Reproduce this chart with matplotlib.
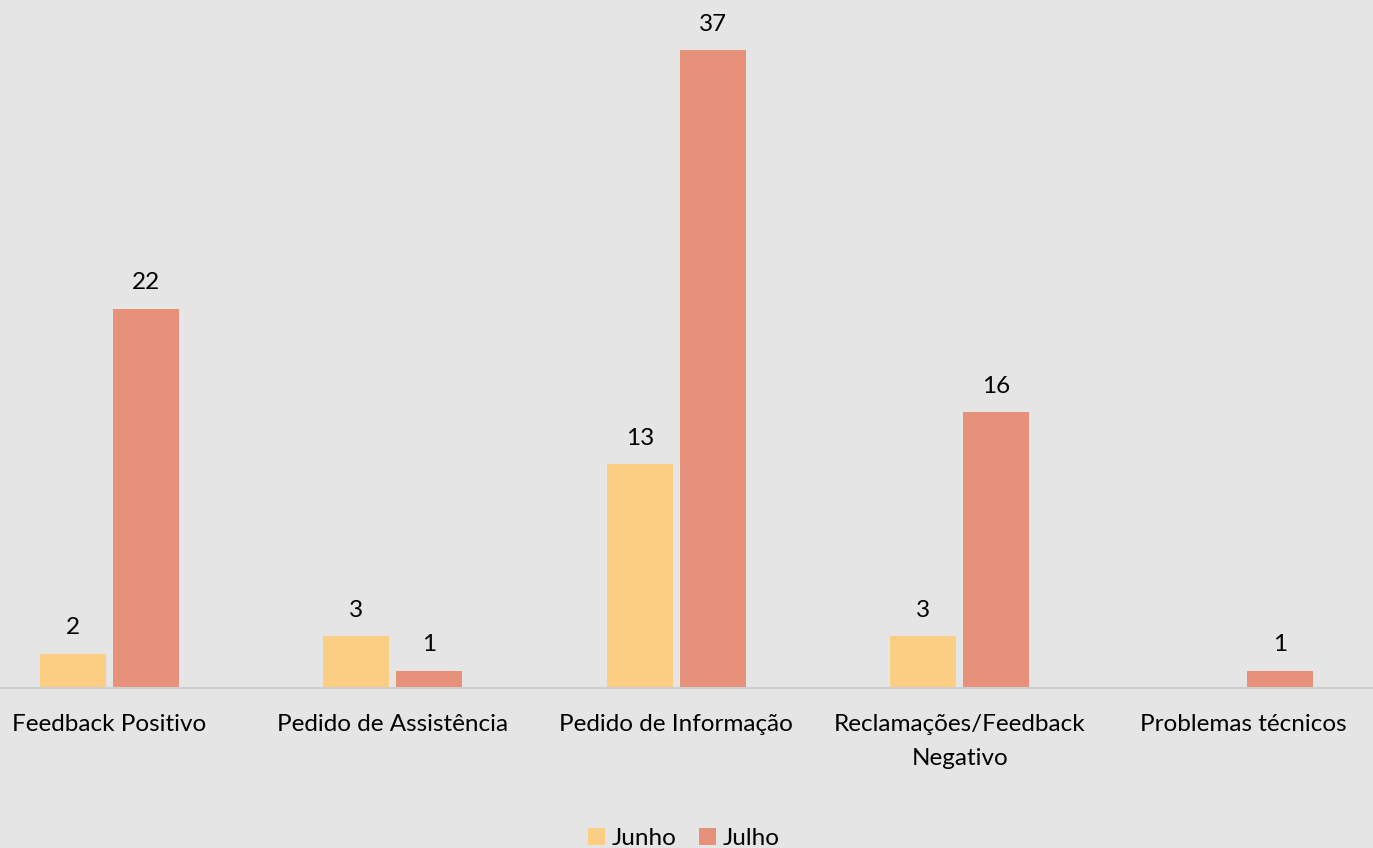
import matplotlib.pyplot as plt
import numpy as np

# Contagem de contactos por categoria
categorias = ['Feedback Positivo', 'Pedido de Assistência', 'Pedido de Informação',
              'Reclamações/Feedback\nNegativo', 'Problemas técnicos']
junho = [2, 3, 13, 3, 0]
julho = [22, 1, 37, 16, 1]

cor_fundo = '#E5E5E5'
cor_junho = '#FCCE83'
cor_julho = '#E8917A'

plt.rcParams['font.family'] = ['Lato', 'DejaVu Sans']

fig = plt.figure(figsize=(13.73, 8.48), dpi=100, facecolor=cor_fundo)
ax = fig.add_axes([0, 160 / 848, 1, 688 / 848])
ax.set_facecolor(cor_fundo)

x = np.arange(len(categorias))
larg = 66 / 283.55
sep = 7 / 283.55

b1 = ax.bar(x - (larg + sep) / 2, junho, larg, color=cor_junho, label='Junho')
b2 = ax.bar(x + (larg + sep) / 2, julho, larg, color=cor_julho, label='Julho')

# rotulos de valor (sem rotulo para barras vazias)
for barras, vals in ((b1, junho), (b2, julho)):
    for r, v in zip(barras, vals):
        if v == 0:
            continue
        ax.annotate(str(v), (r.get_x() + r.get_width() / 2, v), xytext=(0, 11),
                    textcoords='offset points', ha='center', va='bottom', fontsize=17.5)

ax.set_xlim(-109.3 / 283.55, (1373 - 109.3) / 283.55)
ax.set_ylim(0, 688 / 17.24)

for s in ['top', 'right', 'left']:
    ax.spines[s].set_visible(False)
ax.spines['bottom'].set_color('#CFCFCF')
ax.spines['bottom'].set_linewidth(1.5)
ax.set_yticks([])
ax.set_xticks(x)
ax.set_xticklabels(categorias, fontsize=17.5, linespacing=1.75)
ax.tick_params(axis='x', length=0, pad=19)

leg = fig.legend(loc='lower center', bbox_to_anchor=(0.498, -0.027), ncol=2, frameon=False,
                 fontsize=17.5, handlelength=0.7, handleheight=0.7, handletextpad=0.3,
                 columnspacing=0.9)

fig.savefig('out.png', dpi=100, facecolor=cor_fundo)
